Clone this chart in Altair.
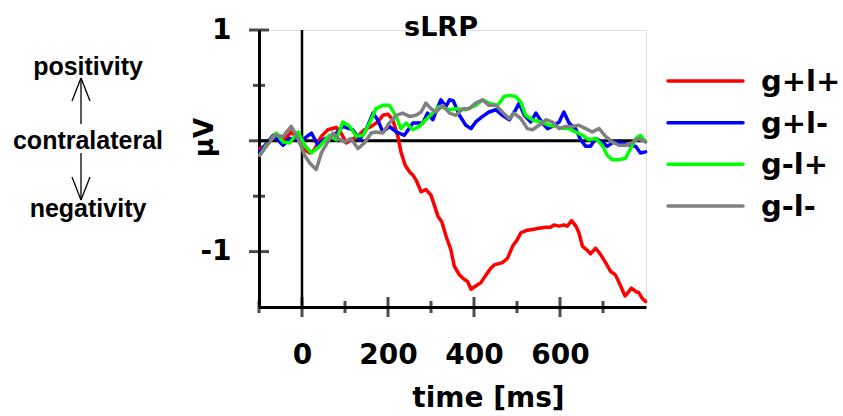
import altair as alt
import pandas as pd

# ---------------- data ----------------
series = ["g+l+", "g+l-", "g-l+", "g-l-"]
colors = ["#ff0000", "#0000ff", "#00ff00", "#808080"]

t_red = [-98, -87, -71, -56, -40, -25, -9, 2, 18, 29, 45, 60, 80, 91, 103, 114, 130, 145, 161, 176,
         188, 200, 211, 223, 230, 240, 250, 258, 266, 277, 288, 300, 316, 325, 335, 346, 354, 366, 377, 385,
         393, 404, 416, 428, 439, 447, 466, 478, 490, 501, 509, 521, 536, 551, 567, 578, 586, 598, 609, 617,
         627, 637, 644, 652, 664, 671, 683, 695, 706, 718, 729, 741, 751, 756, 766, 776, 783, 791, 799]
v_red = [-0.07, -0.05, 0.02, 0.05, 0.01, 0.08, 0.01, -0.07, -0.11, -0.08, 0.04, 0.10, 0.12, 0.07, -0.02, 0.01, 0.04, 0.10, 0.13, 0.17,
         0.23, 0.24, 0.19, 0.04, -0.10, -0.22, -0.28, -0.31, -0.36, -0.46, -0.44, -0.49, -0.68, -0.73, -0.86, -0.98, -1.13, -1.21, -1.25, -1.27,
         -1.34, -1.31, -1.28, -1.21, -1.15, -1.12, -1.10, -1.06, -0.95, -0.89, -0.83, -0.81, -0.80, -0.79, -0.78, -0.78, -0.76, -0.77, -0.76, -0.77,
         -0.72, -0.77, -0.83, -0.95, -0.99, -1.02, -0.97, -1.03, -1.10, -1.18, -1.21, -1.31, -1.40, -1.38, -1.33, -1.36, -1.37, -1.42, -1.45]

t_blue = [-98, -67, -44, -29, 2, 22, 37, 53, 72, 95, 118, 134, 149, 165, 176, 188, 203, 219, 238, 258,
          281, 292, 304, 323, 335, 343, 352, 366, 381, 393, 404, 420, 435, 451, 466, 482, 497, 505, 517, 532,
          544, 559, 571, 582, 598, 609, 621, 636, 648, 660, 671, 683, 698, 710, 725, 745, 764, 776, 787, 799]
v_blue = [-0.10, 0.05, -0.04, 0.02, 0.01, 0.07, -0.04, 0.02, 0.04, 0.13, 0.10, 0.01, 0.10, 0.25, 0.19, 0.08, 0.13, 0.08, 0.05, 0.16,
          0.16, 0.25, 0.19, 0.37, 0.31, 0.37, 0.36, 0.23, 0.14, 0.11, 0.17, 0.22, 0.26, 0.28, 0.23, 0.19, 0.28, 0.34, 0.23, 0.17,
          0.25, 0.16, 0.11, 0.13, 0.17, 0.26, 0.16, 0.11, 0.01, -0.05, -0.05, 0.02, -0.01, -0.05, -0.01, -0.02, -0.04, -0.05, -0.11, -0.10]

t_green = [-98, -83, -60, -44, -29, -9, 6, 22, 41, 64, 80, 95, 111, 126, 142, 157, 172, 188, 203, 219,
           230, 242, 258, 273, 288, 304, 319, 343, 358, 381, 404, 420, 435, 455, 470, 482, 497, 509, 520, 536,
           555, 575, 590, 606, 621, 636, 652, 667, 683, 698, 710, 721, 737, 752, 764, 776, 787, 799]
v_green = [-0.13, -0.04, 0.07, -0.01, -0.02, 0.08, -0.04, -0.11, -0.05, 0.05, 0.01, 0.17, 0.13, 0.04, 0.05, 0.16, 0.29, 0.32, 0.32, 0.22,
           0.11, 0.16, 0.10, 0.13, 0.19, 0.25, 0.31, 0.28, 0.29, 0.28, 0.32, 0.37, 0.34, 0.32, 0.40, 0.41, 0.40, 0.35, 0.23, 0.19,
           0.17, 0.14, 0.13, 0.11, 0.11, 0.08, 0.05, 0.01, 0.02, -0.04, -0.13, -0.17, -0.17, -0.16, -0.07, 0.02, 0.05, -0.01]

t_gray = [-98, -83, -63, -44, -25, -9, 6, 18, 33, 45, 60, 72, 84, 99, 114, 130, 145, 161, 172, 188,
          203, 219, 234, 250, 265, 277, 288, 300, 312, 327, 343, 358, 374, 389, 404, 420, 435, 451, 466, 482,
          493, 509, 524, 536, 551, 567, 582, 598, 613, 629, 644, 660, 675, 691, 706, 721, 737, 752, 767, 783, 799]
v_gray = [-0.13, -0.05, 0.05, 0.04, 0.13, 0.02, -0.13, -0.20, -0.26, -0.11, -0.01, 0.07, 0.02, -0.01, 0.02, -0.07, -0.02, 0.07, 0.08, 0.07,
          0.16, 0.23, 0.25, 0.22, 0.23, 0.26, 0.34, 0.29, 0.26, 0.32, 0.25, 0.23, 0.29, 0.29, 0.34, 0.37, 0.32, 0.32, 0.26, 0.20,
          0.25, 0.20, 0.11, 0.10, 0.14, 0.19, 0.17, 0.11, 0.13, 0.13, 0.14, 0.11, 0.08, 0.11, 0.04, -0.01, -0.04, -0.04, -0.02, 0.02, -0.01]

x_labels = [0, 200, 400, 600]
x_major = [0, 200, 400, 600]
x_minor = [-100, 100, 300, 500, 700]
y_labels = [1, -1]
y_major = [1, 0, -1]
y_minor = [0.5, -0.5]

# ---------------- styling ----------------
FONT = "DejaVu Sans"
ANN_FONT = "Liberation Sans"
W, H = 387, 277

x_scale = alt.Scale(domain=[-100, 800], nice=False, zero=False)
y_scale = alt.Scale(domain=[-1.5, 1], nice=False, zero=False)
color_scale = alt.Scale(domain=series, range=colors)

x_axis = alt.Axis(values=x_labels, labelExpr="'' + datum.value", ticks=False, tickSize=0,
                  domainColor="black", domainWidth=3, grid=False,
                  labelFont=FONT, labelFontSize=28, labelFontWeight="bold", labelColor="black",
                  labelPadding=34, labelFlush=False,
                  title="time [ms]", titleFont=FONT, titleFontSize=28, titleFontWeight="bold",
                  titleColor="black", titleX=229, titleY=91, titleAlign="center", titleBaseline="middle")
y_axis = alt.Axis(values=y_labels, labelExpr="'' + datum.value", ticks=False, tickSize=0,
                  domainColor="black", domainWidth=3, grid=False,
                  labelFont=FONT, labelFontSize=28, labelFontWeight="bold", labelColor="black",
                  labelPadding=28, labelFlush=False,
                  title="µV", titleFont=FONT, titleFontSize=26, titleFontWeight="bold",
                  titleColor="black", titleX=-55, titleY=107, titleAngle=-90,
                  titleAlign="center", titleBaseline="middle")

color = alt.Color("cond:N", scale=color_scale, legend=None)


def X(field):
    return alt.X(field, type="quantitative", scale=x_scale, axis=x_axis)


def Y(field):
    return alt.Y(field, type="quantitative", scale=y_scale, axis=y_axis)


def series_layer(name, t, v):
    df = pd.DataFrame({"t": t, "v": v, "cond": [name] * len(t)})
    return alt.Chart(df).mark_line(strokeWidth=3.5, strokeJoin="round", strokeCap="round").encode(
        x=X("t"), y=Y("v"), color=color)


one = alt.Data(values=[{}])

zero_h = alt.Chart(one).mark_rule(color="black", strokeWidth=3).encode(
    y=alt.YDatum(0, type="quantitative", scale=y_scale, axis=y_axis))
zero_v = alt.Chart(one).mark_rule(color="black", strokeWidth=2.5).encode(
    x=alt.XDatum(0, type="quantitative", scale=x_scale, axis=x_axis))

y_tick_major = alt.Chart(pd.DataFrame({"v": y_major})).mark_tick(
    orient="horizontal", size=20, thickness=3, color="black").encode(
    x=alt.XDatum(-100, type="quantitative", scale=x_scale, axis=x_axis), y=Y("v"))
y_tick_minor = alt.Chart(pd.DataFrame({"v": y_minor})).mark_tick(
    orient="horizontal", size=12, thickness=3, color="black").encode(
    x=alt.XDatum(-100, type="quantitative", scale=x_scale, axis=x_axis), y=Y("v"))
x_tick_major = alt.Chart(pd.DataFrame({"t": x_major})).mark_tick(
    orient="vertical", size=20, thickness=3, color="black").encode(
    x=X("t"), y=alt.YDatum(-1.5, type="quantitative", scale=y_scale, axis=y_axis))
x_tick_minor = alt.Chart(pd.DataFrame({"t": x_minor})).mark_tick(
    orient="vertical", size=12, thickness=3, color="black").encode(
    x=X("t"), y=alt.YDatum(-1.5, type="quantitative", scale=y_scale, axis=y_axis))


def ann_text(txt, x, y, font=ANN_FONT, size=25):
    return alt.Chart(one).mark_text(text=txt, font=font, fontSize=size, fontWeight="bold",
                                    align="center", baseline="alphabetic", color="black").encode(
        x=alt.value(x), y=alt.value(y))


def seg(x1, y1, x2, y2):
    return alt.Chart(one).mark_rule(color="black", strokeWidth=1.3).encode(
        x=alt.value(x1), y=alt.value(y1), x2=alt.value(x2), y2=alt.value(y2))


chart_title = ann_text("sLRP", 182, 6, font=FONT, size=27)

annotations = [
    ann_text("positivity", -171, 45),
    ann_text("contralateral", -171, 119),
    ann_text("negativity", -171, 187),
    seg(-178, 48, -178, 94),
    seg(-187, 71, -178, 48),
    seg(-169, 71, -178, 48),
    seg(-178, 123, -178, 170),
    seg(-187, 147, -178, 170),
    seg(-169, 147, -178, 170),
]

main = alt.layer(
    zero_h, zero_v,
    series_layer(series[0], t_red, v_red),
    series_layer(series[1], t_blue, v_blue),
    series_layer(series[2], t_green, v_green),
    series_layer(series[3], t_gray, v_gray),
    y_tick_major, y_tick_minor, x_tick_major, x_tick_minor,
    chart_title,
    *annotations,
)

# legend drawn from the series list, one row per series (row index -> its own linear scale)
leg_df = pd.DataFrame({"cond": series, "row": list(range(len(series)))})
leg_y = alt.Y("row:Q", scale=alt.Scale(domain=[0, len(series) - 1], range=[51, 176], nice=False, zero=False),
              axis=None)
leg_line = alt.Chart(leg_df).mark_rule(strokeWidth=3.5, strokeCap="round").encode(
    y=leg_y, x=alt.value(409), x2=alt.value(484), color=color)
leg_text = alt.Chart(leg_df).mark_text(align="left", baseline="middle", font=FONT, fontSize=29,
                                       fontWeight="bold", color="black", dy=1).encode(
    y=leg_y, x=alt.value(502), text="cond:N")
legend = alt.layer(leg_line, leg_text)

chart = alt.layer(main, legend).resolve_scale(y="independent").properties(
    width=W, height=H,
    autosize=alt.AutoSizeParams(type="none"),
    padding={"left": 259, "top": 30, "right": 197, "bottom": 109},
).configure_view(stroke=None).configure(background="white")

chart.save("out.html", embed_options={"renderer": "svg", "actions": False})
